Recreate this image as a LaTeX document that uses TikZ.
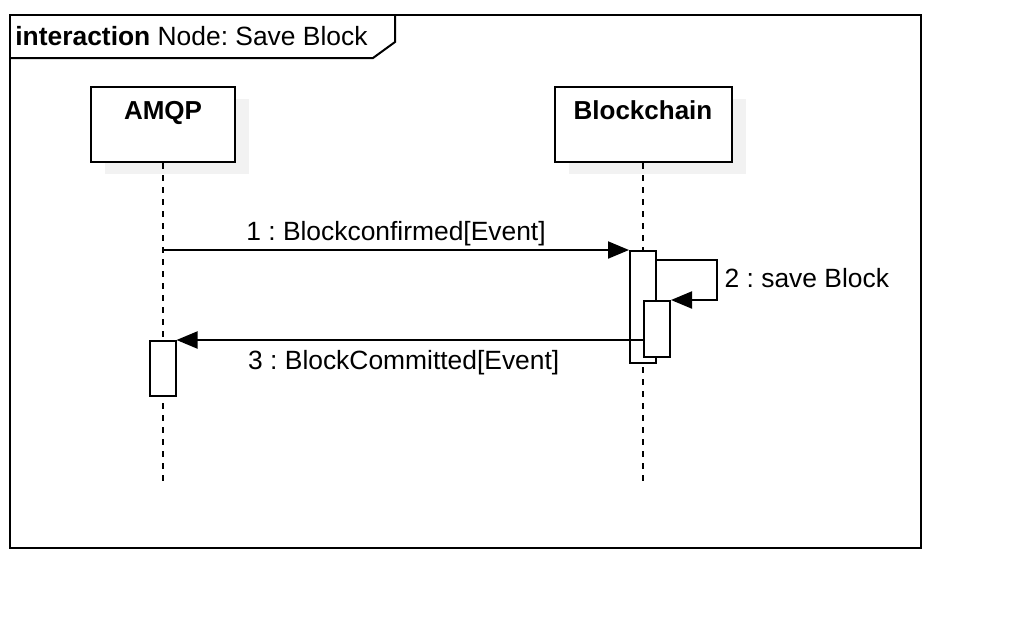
\documentclass[tikz,border=0pt]{standalone}
\usepackage{fontspec}
\setmainfont{Liberation Sans}
\usetikzlibrary{arrows.meta,positioning,shadows}
\frenchspacing

\tikzset{
  lifehead/.style={draw, line width=1pt, fill=white, minimum width=72pt, minimum height=37.5pt, inner sep=0pt,
    drop shadow={shadow xshift=7pt, shadow yshift=-6pt, fill=black!5, opacity=1}},
  headtxt/.style={font=\fontsize{13}{15}\selectfont\bfseries},
  activation/.style={draw, line width=1pt, fill=white, minimum width=13pt, inner sep=0pt},
  lifeline/.style={line width=0.9pt, dash pattern=on 3pt off 3pt},
  msg/.style={line width=1pt, -{Triangle[length=10.5pt,width=8.5pt]}},
  msgtxt/.style={font=\fontsize{13.2}{15}\selectfont},
}

\begin{document}
\begin{tikzpicture}[x=0.5pt, y=-0.5pt]
  \useasboundingbox (0,0) rectangle (1012,634);
  % frame
  \node[draw, line width=1pt, minimum width=455.5pt, minimum height=266.5pt, inner sep=0pt] (frame) at (465.5,281.5) {};
  \draw[line width=1pt] (frame.west |- 0,58) -- (373,58) -- (395,42) -- (395,15);
  \node[msgtxt, anchor=base west, inner sep=0pt] (title) at (15,45) {\textbf{interaction} Node: Save Block};

  % lifelines
  \node[lifehead] (amqp) at (163,124.5) {};
  \node[headtxt, below=4pt of amqp.north] (amqptxt) {AMQP};
  \node[lifehead, minimum width=88.5pt] (chain) at (643,124.5) {};
  \node[headtxt, below=4pt of chain.north] (chaintxt) {Blockchain};
  \coordinate (amqpend) at (163,483);
  \coordinate (chainend) at (643,483);
  \draw[lifeline] (amqp.south) -- (amqpend);
  \draw[lifeline] (chain.south) -- (chainend);

  % activations
  \node[activation, minimum height=56pt] (act1) at (643,307) {};
  \node[activation, minimum height=28pt] (act2) at (657,329) {};
  \node[activation, minimum height=27.5pt] (act3) at (162.5,368.5) {};

  % messages
  \draw[msg] (amqpend |- act1.north) -- (act1.north west)
    node[msgtxt, midway, above, yshift=-2pt] (m1txt) {1 : Blockconfirmed[Event]};
  \draw[msg] ([yshift=-5pt]act1.north east) -- ++(60,0)
    |- node[msgtxt, pos=0.25, right, yshift=1pt] (m2txt) {2 : save Block} (act2.north east);
  \draw[msg] (act2.west |- act3.north) -- (act3.north east)
    node[msgtxt, midway, below, yshift=-1.5pt, xshift=-3pt] (m3txt) {3 : BlockCommitted[Event]};
\end{tikzpicture}
\end{document}
